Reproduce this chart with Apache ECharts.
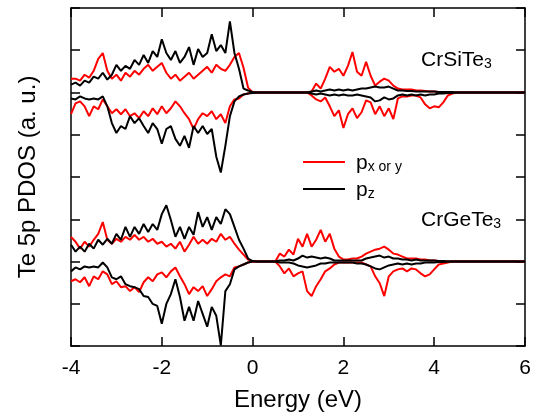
<!DOCTYPE html>
<html>
<head>
<meta charset="utf-8">
<script src="https://cdn.jsdelivr.net/npm/echarts@6/dist/echarts.min.js"></script>
<style>
    html, body { margin: 0; padding: 0; background: #fff; }
    #chart { width: 541px; height: 417px; }
</style>
</head>
<body>
<div id="chart"></div>
<script>
    // energy grid (eV)
    const energy = [
        -4.0, -3.9, -3.8, -3.7, -3.6, -3.5, -3.4, -3.3, -3.2, -3.1,
        -3.0, -2.9, -2.8, -2.7, -2.6, -2.5, -2.4, -2.3, -2.2, -2.1,
        -2.0, -1.9, -1.8, -1.7, -1.6, -1.5, -1.4, -1.3, -1.2, -1.1,
        -1.0, -0.9, -0.8, -0.7, -0.6, -0.5, -0.4, -0.3, -0.2, -0.1,
        0.0, 0.1, 0.2, 0.3, 0.4, 0.5, 0.6, 0.7, 0.8, 0.9,
        1.0, 1.1, 1.2, 1.3, 1.4, 1.5, 1.6, 1.7, 1.8, 1.9,
        2.0, 2.1, 2.2, 2.3, 2.4, 2.5, 2.6, 2.7, 2.8, 2.9,
        3.0, 3.1, 3.2, 3.3, 3.4, 3.5, 3.6, 3.7, 3.8, 3.9,
        4.0, 4.1, 4.2, 4.3, 4.4, 4.5, 4.6, 4.7, 4.8, 4.9,
        5.0, 5.1, 5.2, 5.3, 5.4, 5.5, 5.6, 5.7, 5.8, 5.9, 6.0
    ]

    // CrSiTe3, Te 5p PDOS (a. u.), spin up > 0, spin down < 0
    const siPxyUp = [
        14, 14, 12, 18, 15, 22, 34, 40, 22, 14,
        18, 12, 20, 16, 22, 18, 24, 28, 22, 26,
        30, 20, 14, 18, 12, 16, 20, 14, 18, 22,
        26, 20, 28, 24, 22, 28, 36, 40, 25, 5,
        0, 0, 0, 0, 0, 0, 0, 0, 0, 0,
        0, 0, 0, 1, 9, 4, 14, 26, 21, 24,
        17, 27, 41, 21, 17, 31, 17, 7, 11, 14,
        12, 7, 4, 3, 3, 3, 2, 2, 1.5, 1,
        1, 0.5, 0.3, 0, 0, 0, 0, 0, 0, 0,
        0, 0, 0, 0, 0, 0, 0, 0, 0, 0, 0
    ]
    const siPxyDn = [
        -22, -11, -9, -14, -24, -14, -17, -7, -14, -21,
        -17, -22, -17, -24, -21, -26, -19, -24, -16, -22,
        -14, -21, -16, -9, -14, -21, -27, -37, -27, -21,
        -24, -19, -27, -22, -31, -14, -7, -6, -2, -1,
        0, 0, 0, 0, 0, 0, 0, 0, 0, 0,
        0, 0, 0, -3, -7, -9, -5, -14, -24, -18,
        -36, -22, -16, -26, -20, -8, -10, -22, -14, -24,
        -16, -27, -6, -4, -4, -3, -3, -5, -12, -16,
        -14, -15, -10, -3, -1, 0, 0, 0, 0, 0,
        0, 0, 0, 0, 0, 0, 0, 0, 0, 0, 0
    ]
    const siPzUp = [
        8, 10, 7, 12, 10, 16, 14, 20, 13, 18,
        28, 22, 27, 24, 33, 28, 38, 30, 42, 36,
        54, 40, 33, 42, 30, 36, 46, 28, 44, 36,
        40, 59, 42, 48, 40, 72, 40, 24, 4, 2,
        0.5, 0, 0, 0, 0, 0, 0, 0, 0, 0,
        0, 0, 0, 1, 2, 1, 2, 3, 2, 3,
        2, 3, 2, 3, 4, 4, 5, 6, 5, 5,
        6, 4, 2, 2, 1.5, 1.5, 1, 1, 1, 1,
        1, 0.5, 0.5, 0.5, 0.5, 0, 0, 0, 0, 0,
        0, 0, 0, 0, 0, 0, 0, 0, 0, 0, 0
    ]
    const siPzDn = [
        -6, -7, -4, -6, -7, -6, -7, -4, -14, -31,
        -41, -34, -37, -24, -31, -26, -34, -41, -31, -37,
        -52, -37, -34, -47, -54, -44, -56, -34, -41, -34,
        -42, -37, -65, -81, -54, -24, -9, -4, -2, -1,
        -0.5, 0, 0, 0, 0, 0, 0, 0, 0, 0,
        0, 0, 0, -1, -2, -1, -2, -3, -2, -3,
        -2, -3, -3, -2, -3, -4, -5, -9, -8, -5,
        -7, -6, -3, -2, -3, -2, -3, -2, -3, -2,
        -2, -1, -1, -0.5, -0.5, 0, 0, 0, 0, 0,
        0, 0, 0, 0, 0, 0, 0, 0, 0, 0, 0
    ]

    // CrGeTe3
    const gePxyUp = [
        25, 20, 13, 20, 15, 22, 28, 40, 22, 18,
        23, 20, 25, 22, 27, 22, 25, 20, 23, 18,
        20, 15, 18, 13, 20, 10, 17, 25, 18, 22,
        18, 23, 20, 28, 22, 25, 18, 12, 7, 2,
        0, 0, 0, 0, 0, 0, 8, 5, 12, 7,
        23, 15, 28, 15, 22, 32, 20, 28, 13, 5,
        2, 2, 3, 3, 5, 8, 10, 12, 13, 15,
        12, 8, 7, 5, 3, 3, 3, 2, 2, 1,
        1, 0.5, 0.3, 0, 0, 0, 0, 0, 0, 0,
        0, 0, 0, 0, 0, 0, 0, 0, 0, 0, 0
    ]
    const gePxyDn = [
        -20, -18, -21, -16, -25, -15, -18, -10, -13, -23,
        -20, -26, -25, -30, -26, -31, -21, -16, -20, -13,
        -11, -16, -10, -6, -15, -23, -33, -26, -30, -25,
        -35, -28, -20, -16, -13, -15, -6, -5, -3, -1,
        0, 0, 0, 0, 0, 0, -5, -12, -7, -15,
        -12, -10, -30, -35, -25, -18, -10, -7, -3, -1,
        -1, -1, -1, -1, -1, -3, -5, -15, -22, -35,
        -15, -10, -8, -7, -10, -7, -8, -12, -15, -13,
        -8, -3, -2, -1, 0, 0, 0, 0, 0, 0,
        0, 0, 0, 0, 0, 0, 0, 0, 0, 0, 0
    ]
    const gePzUp = [
        17, 10, 15, 10, 18, 13, 22, 17, 23, 18,
        28, 22, 35, 25, 35, 28, 38, 30, 38, 32,
        48, 57, 42, 25, 35, 23, 35, 27, 50, 35,
        45, 32, 45, 38, 53, 48, 35, 22, 13, 3,
        0.5, 0, 0, 0, 0, 0, 1, 1, 2, 1,
        3, 6, 4, 5, 4, 3, 4, 3, 1, 1,
        1, 1, 1, 1, 1, 3, 4, 5, 6, 4,
        5, 3, 3, 2, 2, 1, 2, 1, 1, 1,
        1, 0.5, 0.5, 0, 0, 0, 0, 0, 0, 0,
        0, 0, 0, 0, 0, 0, 0, 0, 0, 0, 0
    ]
    const gePzDn = [
        -10, -6, -8, -5, -6, -5, -6, -1, -6, -16,
        -18, -15, -23, -25, -26, -28, -35, -36, -43, -45,
        -63, -43, -33, -18, -36, -60, -46, -60, -40, -53,
        -66, -46, -55, -85, -30, -23, -8, -5, -3, -1,
        0, 0, 0, 0, 0, 0, -1, -1, -1, -2,
        -4, -5, -6, -5, -4, -2, -2, -1, -1, -1,
        -1, -1, -1, -2, -2, -3, -5, -7, -8, -6,
        -4, -3, -2, -3, -2, -3, -2, -2, -1, -1,
        -1, -0.5, -0.5, 0, 0, 0, 0, 0, 0, 0,
        0, 0, 0, 0, 0, 0, 0, 0, 0, 0, 0
    ]

    // one y tick = 42.8 a.u.; the two compounds are stacked with offsets
    const TICK = 42.8
    const siBase = 6 * TICK
    const geBase = 2 * TICK

    const FONT = 'Liberation Sans, Arial, Helvetica, sans-serif'

    function curve(name, values, base, color) {
        return {
            name: name,
            type: 'line',
            showSymbol: false,
            symbol: 'none',
            data: energy.map((e, i) => [e, base + values[i]]),
            lineStyle: {color: color, width: 2},
            itemStyle: {color: color},
            z: color === '#000' ? 3 : 2
        }
    }

    const subRich = {
        a: {fontSize: 21, lineHeight: 24, fontFamily: FONT, color: '#000', verticalAlign: 'bottom', padding: [0, 0, 0, 6]},
        b: {fontSize: 14, lineHeight: 12, fontFamily: FONT, color: '#000', verticalAlign: 'bottom'}
    }
    const labRich = {
        a: {fontSize: 21, lineHeight: 24, fontFamily: FONT, color: '#000', verticalAlign: 'bottom'},
        b: {fontSize: 14, lineHeight: 12, fontFamily: FONT, color: '#000', verticalAlign: 'bottom'}
    }

    const axisCommon = {
        axisLine: {onZero: false, lineStyle: {color: '#000', width: 1.5}},
        axisTick: {inside: true, length: 9, lineStyle: {color: '#000', width: 1.5}},
        splitLine: {show: false}
    }

    const chart = echarts.init(document.getElementById('chart'))
    chart.setOption({
        animation: false,
        backgroundColor: '#fff',
        grid: {left: 71, right: 16, top: 8, bottom: 66},
        legend: {
            orient: 'vertical',
            left: 298,
            top: 148,
            icon: 'rect',
            itemWidth: 42,
            itemHeight: 2,
            itemGap: 6,
            data: ['pxy', 'pz'],
            formatter: name => name === 'pxy' ? '{a|p}{b|x or y}' : '{a|p}{b|z}',
            textStyle: {rich: subRich}
        },
        xAxis: [
            {
                type: 'value', min: -4, max: 6, interval: 2,
                name: 'Energy (eV)', nameLocation: 'middle', nameGap: 42,
                nameTextStyle: {fontSize: 24, fontFamily: FONT, color: '#000'},
                axisLabel: {fontSize: 21, fontFamily: FONT, color: '#000', margin: 12},
                ...axisCommon
            },
            {
                type: 'value', min: -4, max: 6, interval: 2, position: 'top',
                axisLabel: {show: false},
                ...axisCommon
            }
        ],
        yAxis: [
            {
                type: 'value', min: 0, max: 8 * TICK, interval: TICK,
                name: 'Te 5p PDOS (a. u.)', nameLocation: 'middle', nameGap: 31,
                nameTextStyle: {fontSize: 24, fontFamily: FONT, color: '#000'},
                axisLabel: {show: false},
                ...axisCommon
            },
            {
                type: 'value', min: 0, max: 8 * TICK, interval: TICK, position: 'right',
                axisLabel: {show: false},
                ...axisCommon
            }
        ],
        graphic: [
            {type: 'text', left: 421, top: 50, style: {text: '{a|CrSiTe}{b|3}', rich: labRich}},
            {type: 'text', left: 421, top: 210, style: {text: '{a|CrGeTe}{b|3}', rich: labRich}}
        ],
        series: [
            curve('pxy', siPxyUp, siBase, '#ff0000'),
            curve('pxy', siPxyDn, siBase, '#ff0000'),
            curve('pxy', gePxyUp, geBase, '#ff0000'),
            curve('pxy', gePxyDn, geBase, '#ff0000'),
            curve('pz', siPzUp, siBase, '#000'),
            curve('pz', siPzDn, siBase, '#000'),
            curve('pz', gePzUp, geBase, '#000'),
            curve('pz', gePzDn, geBase, '#000')
        ]
    })
</script>
</body>
</html>
